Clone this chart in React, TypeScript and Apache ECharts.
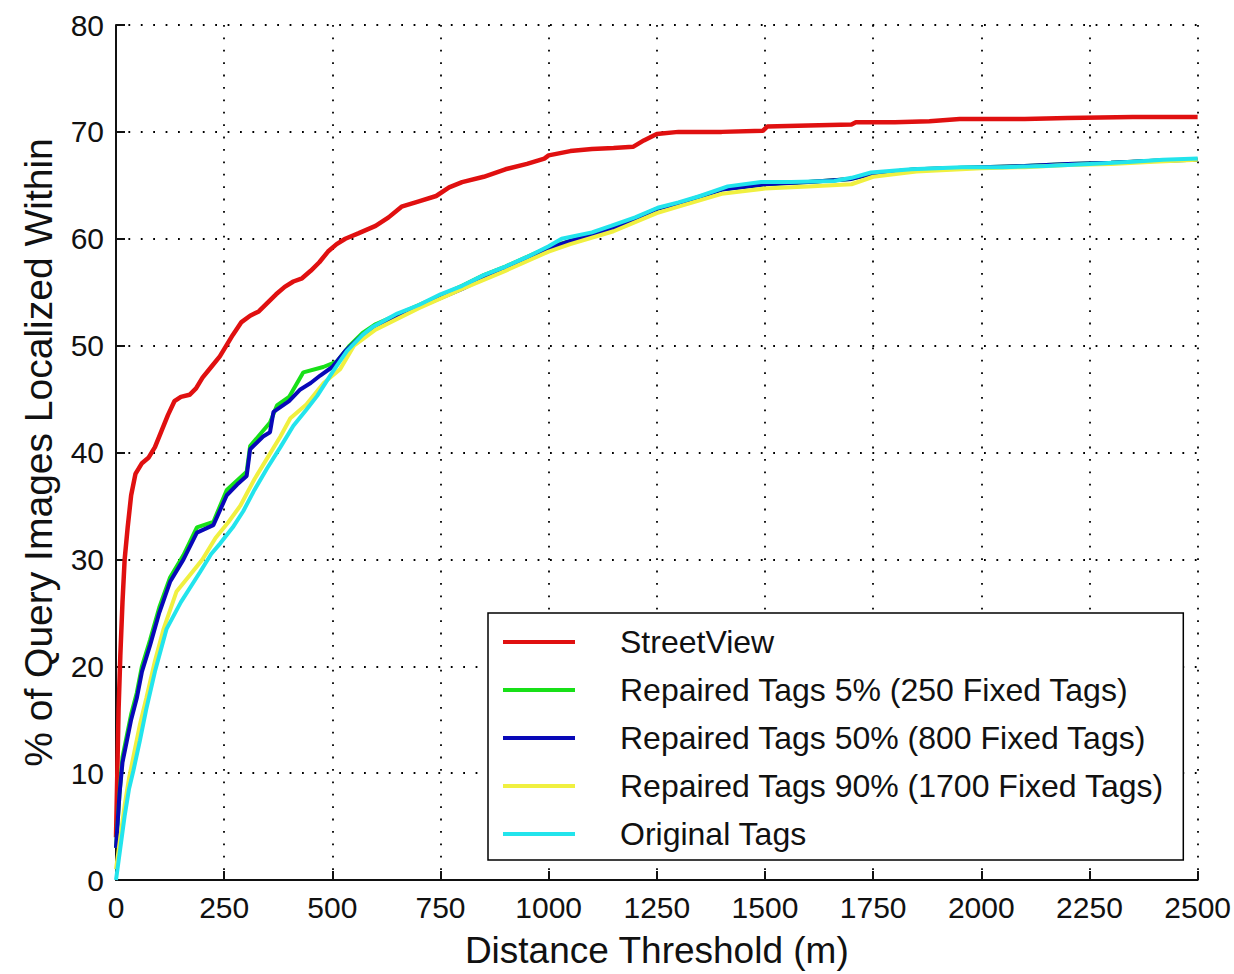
import React, { useEffect, useRef } from "react";
import * as echarts from "echarts";

const seriesNames = [
  "StreetView",
  "Repaired Tags 5% (250 Fixed Tags)",
  "Repaired Tags 50% (800 Fixed Tags)",
  "Repaired Tags 90% (1700 Fixed Tags)",
  "Original Tags",
];

const seriesColors = ["#e01010", "#18e018", "#0808b8", "#f0f040", "#22e4ec"];

const xTicks = [0, 250, 500, 750, 1000, 1250, 1500, 1750, 2000, 2250, 2500];
const yTicks = [0, 10, 20, 30, 40, 50, 60, 70, 80];

const streetView: [number, number][] = [
  [0, 4], [3, 10], [6, 16], [10, 21], [15, 26], [20, 30], [27, 33], [35, 36], [45, 38],
  [60, 39], [75, 39.5], [90, 40.5], [105, 42], [120, 43.5], [135, 44.8], [150, 45.2],
  [170, 45.4], [185, 46], [200, 47], [220, 48], [240, 49], [255, 50], [270, 51],
  [290, 52.2], [310, 52.8], [330, 53.2], [350, 54], [370, 54.8], [390, 55.5], [410, 56],
  [430, 56.3], [450, 57], [470, 57.8], [490, 58.8], [510, 59.5], [530, 60], [560, 60.5],
  [600, 61.2], [630, 62], [660, 63], [700, 63.5], [740, 64], [770, 64.8], [800, 65.3],
  [850, 65.8], [900, 66.5], [950, 67], [990, 67.5], [1000, 67.8], [1050, 68.2], [1100, 68.4],
  [1150, 68.5], [1195, 68.6], [1220, 69.2], [1250, 69.8], [1300, 70], [1400, 70],
  [1495, 70.1], [1505, 70.5], [1600, 70.6], [1700, 70.7], [1710, 70.9], [1800, 70.9],
  [1880, 71], [1950, 71.2], [2100, 71.2], [2200, 71.3], [2350, 71.4], [2500, 71.4],
];

const repaired5: [number, number][] = [
  [0, 3], [8, 8], [15, 11.5], [25, 13.5], [35, 15.5], [48, 17.5], [60, 20], [79, 22.5],
  [100, 25.5], [125, 28.3], [156, 30.4], [187, 33], [225, 33.5], [256, 36.5], [302, 38.2],
  [310, 40.6], [356, 42.8], [372, 44.4], [400, 45.2], [433, 47.5], [479, 48], [510, 48.5],
  [540, 50], [570, 51.2], [600, 52], [700, 53.8], [800, 55.6], [850, 56.6], [900, 57.4],
  [1000, 59.2], [1050, 59.8], [1150, 61], [1250, 62.8], [1300, 63.3], [1400, 64.6],
  [1500, 65.1], [1600, 65.3], [1700, 65.6], [1750, 66.1], [1850, 66.5], [2000, 66.7],
  [2100, 66.8], [2200, 67], [2300, 67.1], [2400, 67.3], [2500, 67.4],
];

const repaired50: [number, number][] = [
  [0, 3], [8, 8], [15, 11], [25, 13], [35, 15], [48, 17], [60, 19.5], [79, 22], [100, 25],
  [125, 27.9], [156, 30], [187, 32.5], [225, 33.2], [256, 36], [280, 37], [302, 37.8],
  [310, 40.3], [340, 41.5], [356, 41.9], [364, 43.8], [400, 44.8], [426, 45.9], [450, 46.5],
  [472, 47.2], [500, 48], [530, 49.5], [570, 51], [600, 51.8], [700, 53.6], [800, 55.3],
  [850, 56.3], [900, 57.2], [1000, 59.1], [1050, 59.8], [1150, 61], [1250, 62.8],
  [1300, 63.3], [1400, 64.6], [1500, 65.1], [1600, 65.3], [1700, 65.6], [1750, 66.1],
  [1850, 66.5], [2000, 66.7], [2100, 66.8], [2200, 67], [2300, 67.1], [2400, 67.3],
  [2500, 67.4],
];

const repaired90: [number, number][] = [
  [0, 1], [10, 4], [20, 7], [30, 9.5], [40, 11.5], [55, 14.5], [70, 17], [90, 20.5],
  [110, 23.5], [140, 27], [170, 28.5], [200, 30], [230, 32], [260, 33.5], [287, 35],
  [320, 37.5], [350, 39.5], [380, 41.5], [403, 43.2], [440, 44.5], [480, 46.5], [518, 47.8],
  [550, 50], [600, 51.5], [700, 53.5], [800, 55.3], [900, 57], [1000, 58.8], [1050, 59.5],
  [1150, 60.7], [1250, 62.4], [1300, 63], [1400, 64.2], [1500, 64.7], [1600, 64.9],
  [1700, 65.1], [1750, 65.8], [1850, 66.3], [2000, 66.6], [2100, 66.7], [2200, 66.9],
  [2300, 67], [2400, 67.2], [2500, 67.4],
];

const originalTags: [number, number][] = [
  [0, 0], [10, 3], [20, 6], [30, 8.5], [40, 10.2], [55, 13], [70, 16], [90, 19.5],
  [117, 23.5], [150, 26], [194, 28.8], [220, 30.5], [241, 31.5], [270, 33], [294, 34.5],
  [320, 36.5], [349, 38.5], [380, 40.5], [410, 42.5], [440, 44], [465, 45.3], [500, 47.5],
  [534, 49.5], [570, 51], [595, 51.8], [650, 53], [700, 53.8], [750, 54.8], [800, 55.6],
  [850, 56.6], [900, 57.4], [950, 58.3], [1000, 59.3], [1030, 60], [1100, 60.6], [1144, 61.2],
  [1200, 62], [1252, 62.9], [1300, 63.4], [1350, 64], [1414, 64.9], [1491, 65.3],
  [1560, 65.3], [1660, 65.4], [1700, 65.7], [1745, 66.2], [1838, 66.5], [1954, 66.7],
  [2050, 66.7], [2150, 66.8], [2250, 67], [2350, 67.2], [2420, 67.4], [2500, 67.5],
];

const seriesData = [streetView, repaired5, repaired50, repaired90, originalTags];

const FONT = "'Liberation Sans', Arial, sans-serif";

export default function App() {
  const ref = useRef<HTMLDivElement>(null);
  useEffect(() => {
    if (!ref.current) return;
    const chart = echarts.init(ref.current, undefined, { renderer: "svg" });
    const gridStyle = { color: "#000", width: 1.8, type: [1.8, 10.6] as number[] };
    chart.setOption({
      animation: false,
      backgroundColor: "#fff",
      grid: { left: 116, right: 28, top: 25, bottom: 92, containLabel: false },
      legend: {
        data: seriesNames,
        orient: "vertical",
        left: 488,
        top: 613,
        icon: "rect",
        itemWidth: 72,
        itemHeight: 4,
        itemGap: 12,
        padding: [11, 19, 8, 15],
        borderColor: "#000",
        borderWidth: 1.5,
        backgroundColor: "#fff",
        textStyle: {
          fontFamily: FONT,
          fontSize: 32,
          lineHeight: 36,
          color: "#111",
          padding: [0, 0, 0, 40],
        },
      },
      xAxis: {
        type: "value",
        min: 0,
        max: 2500,
        interval: 250,
        name: "Distance Threshold (m)",
        nameLocation: "middle",
        nameGap: 52,
        nameTextStyle: { fontFamily: FONT, fontSize: 37, color: "#111" },
        axisLine: { show: true, onZero: false, lineStyle: { color: "#111", width: 2 } },
        axisTick: { show: true, inside: true, length: 9, lineStyle: { color: "#111", width: 2 } },
        axisLabel: {
          fontFamily: FONT,
          fontSize: 30,
          color: "#111",
          margin: 12,
          formatter: (v: number) => String(v),
        },
        splitLine: { show: true, lineStyle: gridStyle },
      },
      yAxis: {
        type: "value",
        min: 0,
        max: 80,
        interval: 10,
        name: "% of Query Images Localized Within",
        nameLocation: "middle",
        nameGap: 58,
        nameRotate: 90,
        nameTextStyle: { fontFamily: FONT, fontSize: 39, color: "#111" },
        axisLine: { show: true, onZero: false, lineStyle: { color: "#111", width: 2 } },
        axisTick: { show: true, inside: true, length: 9, lineStyle: { color: "#111", width: 2 } },
        axisLabel: {
          fontFamily: FONT,
          fontSize: 30,
          color: "#111",
          margin: 12,
          formatter: (v: number) => String(v),
        },
        splitLine: { show: true, lineStyle: gridStyle },
      },
      series: seriesNames.map((name, i) => ({
        name,
        type: "line",
        data: seriesData[i],
        showSymbol: false,
        symbol: "none",
        color: seriesColors[i],
        lineStyle: { color: seriesColors[i], width: i === 0 ? 4.5 : 4 },
      })),
    });
    return () => chart.dispose();
  }, []);
  return (
    <div
      ref={ref}
      style={{ position: "fixed", left: 0, top: 0, width: 1234, height: 974 }}
    />
  );
}
